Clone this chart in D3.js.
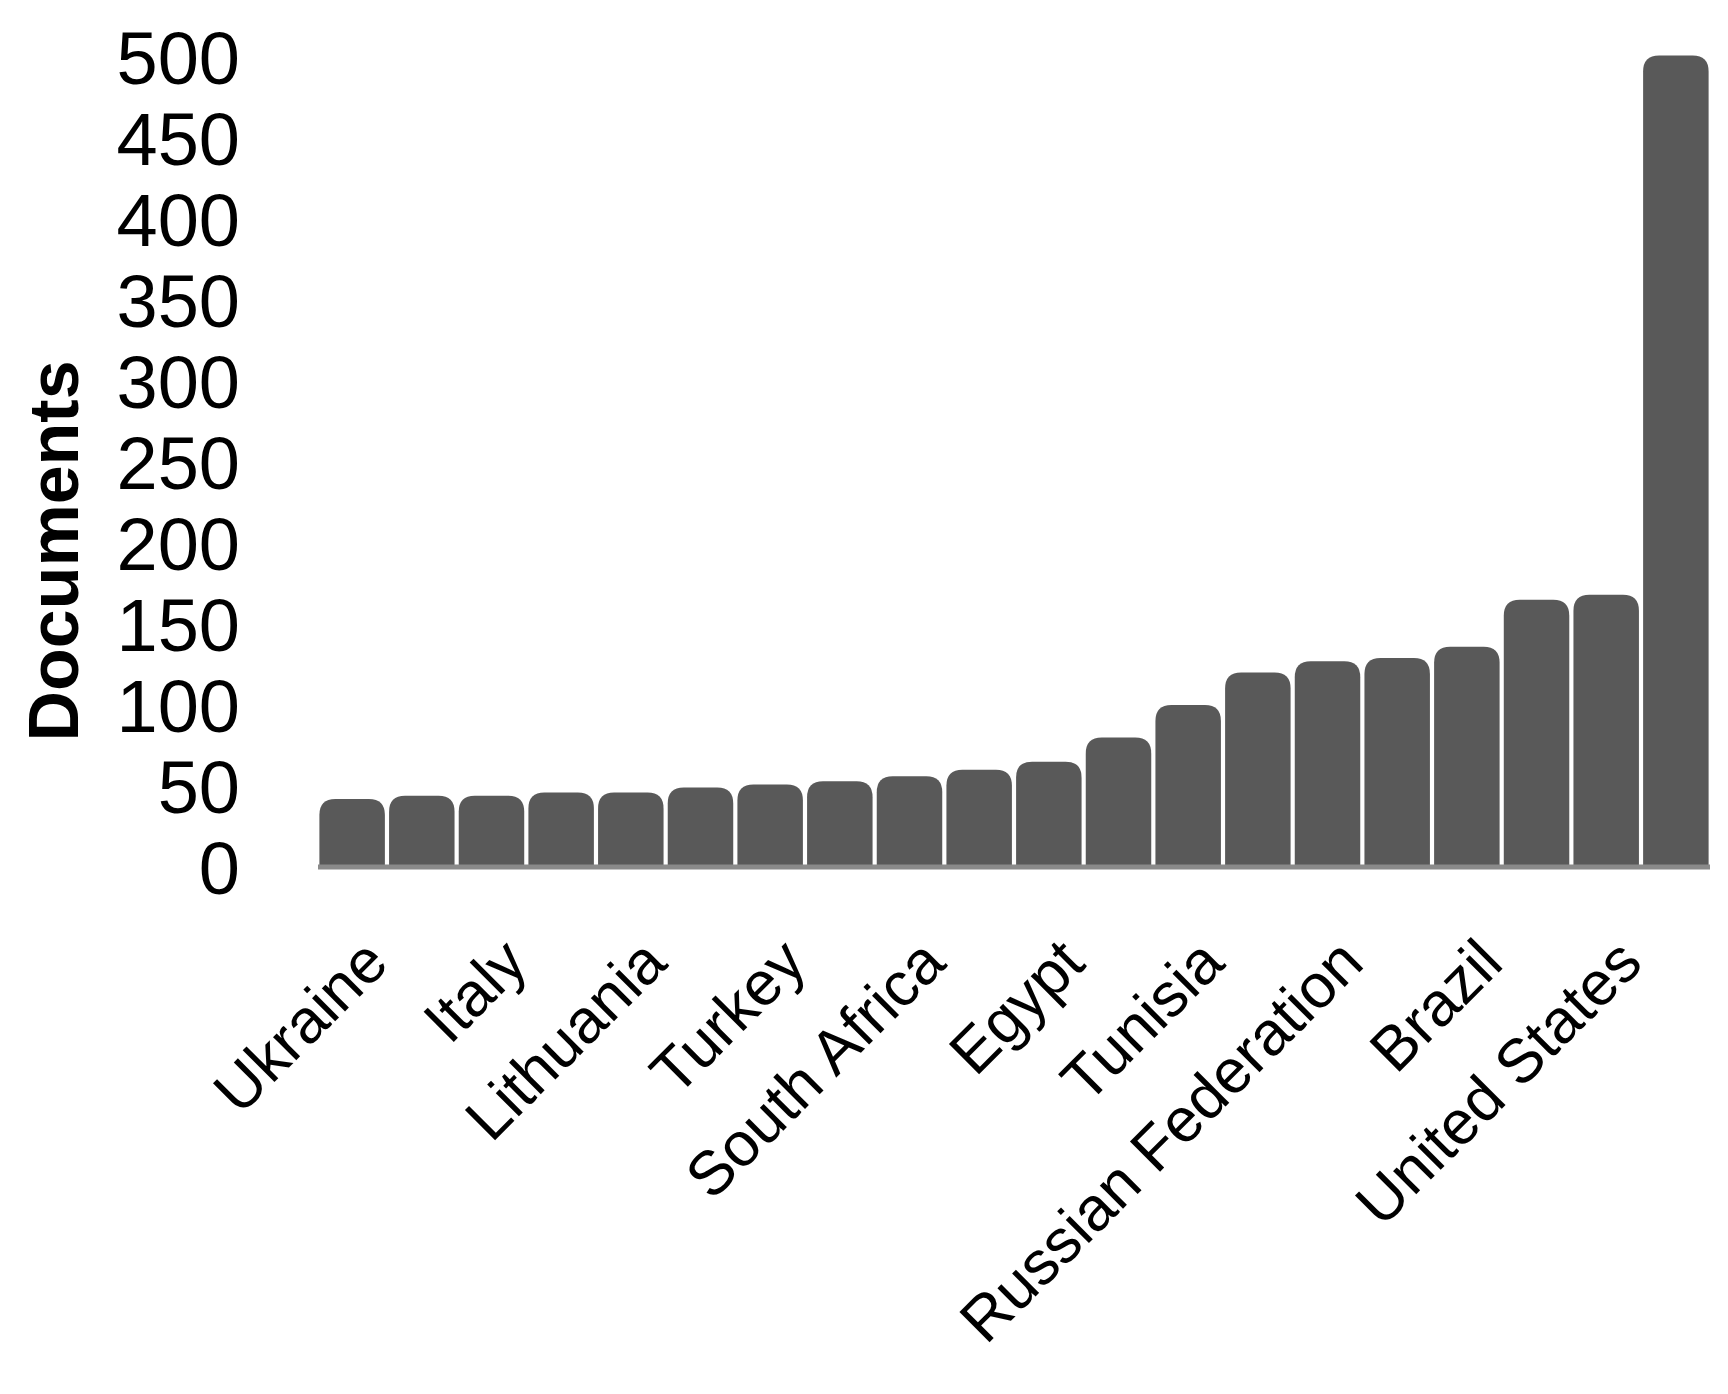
<!DOCTYPE html>
<html><head><meta charset="utf-8">
<script src="https://cdn.jsdelivr.net/npm/d3@7"></script>
<style>body{margin:0;background:#fff}</style></head>
<body><svg id="c" width="1728" height="1394"></svg>
<script>
const categories = ["Ukraine","b2","Italy","b4","Lithuania","b6","Turkey","b8","South Africa","b10","Egypt","b12","Tunisia","b14","Russian Federation","b16","Brazil","b18","United States","b20"];
const tickLabels = ["Ukraine","","Italy","","Lithuania","","Turkey","","South Africa","","Egypt","","Tunisia","","Russian Federation","","Brazil","","United States",""];
const values = [42,44,44,46,46,49,51,53,56,60,65,80,100,120,127,129,136,165,168,501];
const yTicks = [0,50,100,150,200,250,300,350,400,450,500];

const svg = d3.select("#c");
const x = d3.scaleBand().domain(categories).range([318,1710]).paddingInner(0.06).paddingOuter(0.02);
const y = d3.scaleLinear().domain([0,500]).range([867,57]);
const r = 16;

svg.append("g").selectAll("path").data(values).join("path")
  .attr("fill","#595959")
  .attr("d",(v,i)=>{
    const x0=x(categories[i]), w=x.bandwidth(), y0=y(v), b=y(0);
    return `M${x0},${b}V${y0+r}Q${x0},${y0} ${x0+r},${y0}H${x0+w-r}Q${x0+w},${y0} ${x0+w},${y0+r}V${b}Z`;
  });
svg.append("line").attr("x1",318).attr("x2",1710).attr("y1",y(0)).attr("y2",y(0))
  .attr("stroke","#8a8a8a").attr("stroke-width",5);

svg.append("g").selectAll("text").data(yTicks).join("text")
  .attr("x",240).attr("y",d=>y(d)).attr("dy","0.36em").attr("text-anchor","end")
  .attr("font-family","Liberation Sans, Arial, sans-serif").attr("font-size",74)
  .text(d=>d);

svg.append("text").attr("transform","translate(78,551) rotate(-90)")
  .attr("text-anchor","middle").attr("font-family","Liberation Sans, Arial, sans-serif")
  .attr("font-weight","bold").attr("font-size",70).text("Documents");

svg.append("g").selectAll("text").data(tickLabels).join("text")
  .attr("transform",(d,i)=>`translate(${x(categories[i])+x.bandwidth()/2+8},${935}) rotate(-45)`)
  .attr("text-anchor","end").attr("dy","0.7em")
  .attr("font-family","Liberation Sans, Arial, sans-serif").attr("font-size",62)
  .text(d=>d);
</script></body></html>
